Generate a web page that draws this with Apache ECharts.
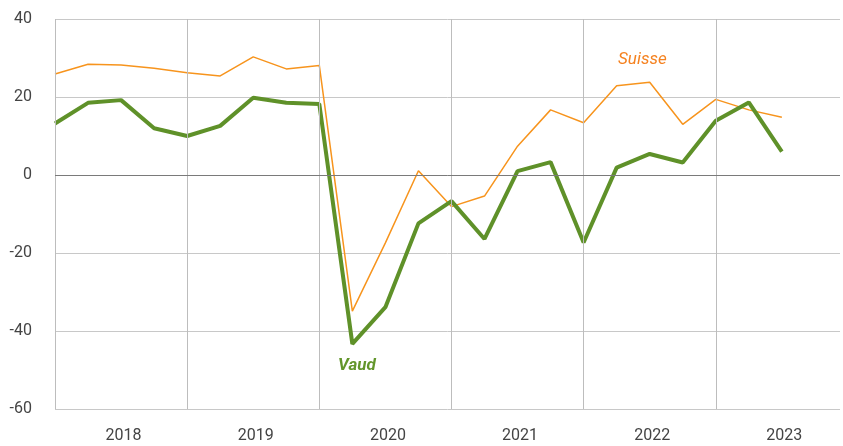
<!DOCTYPE html>
<html>
<head>
<meta charset="utf-8">
<script src="https://cdn.jsdelivr.net/npm/echarts@6/dist/echarts.min.js"></script>
<style>html,body{margin:0;padding:0;background:#fff}#c{width:843px;height:446px}</style>
</head>
<body>
<div id="c"></div>
<script>
// Quarterly values, 2018 Q1 .. 2023 Q3 (index = quarter number from start)
const quarters = ['2018T1','2018T2','2018T3','2018T4','2019T1','2019T2','2019T3','2019T4','2020T1','2020T2','2020T3','2020T4','2021T1','2021T2','2021T3','2021T4','2022T1','2022T2','2022T3','2022T4','2023T1','2023T2','2023T3'];
const vaud = [13.2, 18.5, 19.2, 12.0, 10.0, 12.6, 19.8, 18.5, 18.2, -43.3, -33.9, -12.4, -6.7, -16.4, 1.0, 3.3, -17.3, 1.9, 5.4, 3.2, 13.9, 18.6, 6.0];
const suisse = [25.9, 28.4, 28.2, 27.4, 26.2, 25.4, 30.3, 27.2, 28.1, -34.9, -17.4, 1.1, -8.1, -5.4, 7.4, 16.7, 13.4, 22.9, 23.8, 13.0, 19.4, 16.7, 14.8];
const years = ['2018','2019','2020','2021','2022','2023'];
const yearStarts = [0, 4, 8, 12, 16, 20]; // quarter index where each year begins
const yTicks = [-60, -40, -20, 0, 20, 40];

const chart = echarts.init(document.getElementById('c'), null, {renderer: 'canvas'});
const xMax = 23.76;
const font = 'Roboto, "Liberation Sans", sans-serif';
chart.setOption({
  animation: false,
  backgroundColor: '#fff',
  grid: {left: 55, right: 0, top: 19, height: 390},
  xAxis: {
    type: 'value', min: 0, max: xMax, interval: 2, position: 'bottom',
    axisLine: {show: false, onZero: false}, axisTick: {show: false},
    splitLine: {show: false},
    axisLabel: {
      margin: 19, color: '#444', fontSize: 16, fontFamily: font, padding: [0, 0, 0, 5],
      formatter: function (v) { return (v % 4 === 2) ? years[(v - 2) / 4] : ''; }
    }
  },
  yAxis: {
    type: 'value', min: yTicks[0], max: yTicks[yTicks.length - 1], interval: 20,
    axisLine: {show: false}, axisTick: {show: false},
    axisLabel: {margin: 23, color: '#444', fontSize: 16, fontFamily: font},
    splitLine: {lineStyle: {color: '#c8c8c8', width: 1}}
  },
  series: [
    {
      name: 'grid', type: 'line', data: [], silent: true, z: 1,
      markLine: {
        silent: true, symbol: 'none', label: {show: false},
        lineStyle: {color: '#bdbdbd', width: 1, type: 'solid'},
        data: yearStarts.map(q => ({xAxis: q}))
      }
    },
    {
      name: 'Suisse', type: 'line',
      data: suisse.map((v, i) => [i, v]),
      symbol: 'none', lineStyle: {color: '#f7941d', width: 1.5}, z: 3,
      markLine: {
        silent: true, symbol: 'none', label: {show: false},
        lineStyle: {color: '#7a7a7a', width: 1, type: 'solid'},
        data: [{yAxis: 0}]
      }
    },
    {
      name: 'Vaud', type: 'line',
      data: vaud.map((v, i) => [i, v]),
      symbol: 'none', lineStyle: {color: '#5f9129', width: 4}, z: 4
    }
  ],
  graphic: [
    {type: 'text', left: 618, top: 51, style: {text: 'Suisse', fill: '#f58220', font: 'italic 17px ' + font}},
    {type: 'text', left: 338, top: 357, style: {text: 'Vaud', fill: '#63962b', font: 'italic bold 17px ' + font}}
  ]
});
</script>
</body>
</html>
